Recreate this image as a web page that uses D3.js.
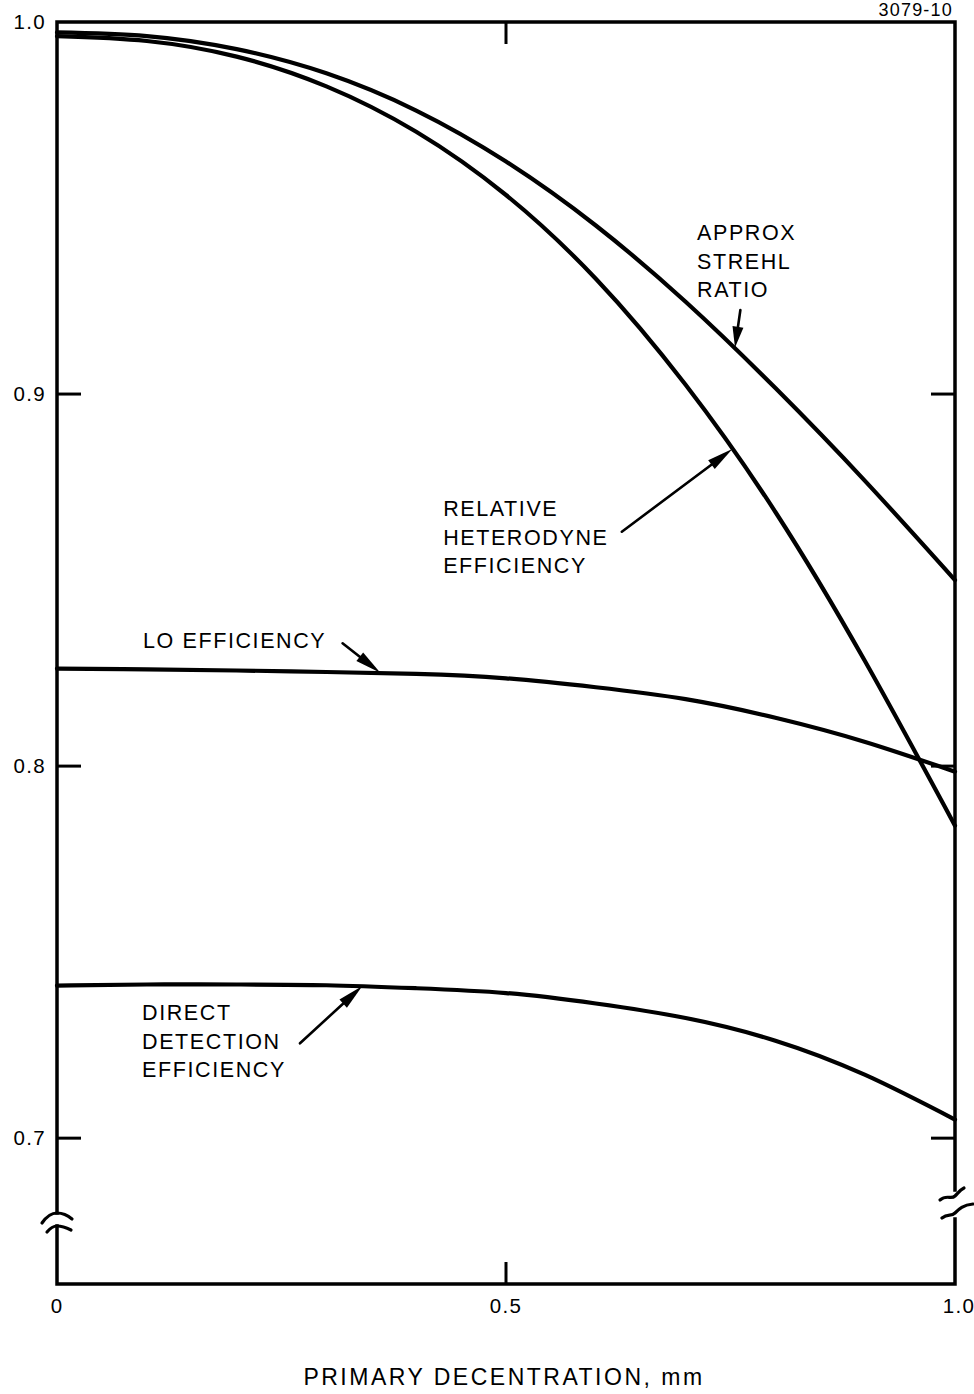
<!DOCTYPE html>
<html>
<head>
<meta charset="utf-8">
<script src="https://cdn.jsdelivr.net/npm/d3@7"></script>
<style>
  html, body { margin: 0; padding: 0; background: #fff; }
  svg { display: block; }
  text { font-family: "Liberation Sans", Arial, Helvetica, sans-serif; fill: #000; }
</style>
</head>
<body>
<script>
// Primary decentration (mm) at which every curve is sampled
const decentration = [0, 0.1, 0.2, 0.3, 0.4, 0.5, 0.6, 0.7, 0.8, 0.9, 1.0];

// Efficiency values at those decentrations
const strehlRatio = [0.9972, 0.9962, 0.9927, 0.9862, 0.9762, 0.9625, 0.9453, 0.9248, 0.9016, 0.8766, 0.8500];
const heterodyneEff = [0.9962, 0.9949, 0.9907, 0.9827, 0.9705, 0.9535, 0.9310, 0.9025, 0.8683, 0.8281, 0.7840];
const loEff = [0.8262, 0.8260, 0.8257, 0.8253, 0.8248, 0.8236, 0.8212, 0.8180, 0.8130, 0.8065, 0.7985];
const directEff = [0.7410, 0.7413, 0.7413, 0.7411, 0.7403, 0.7390, 0.7362, 0.7323, 0.7262, 0.7170, 0.7050];

// Axis ticks and labels
const yTicks = [0.7, 0.8, 0.9];
const yTickLabels = ["0.7", "0.8", "0.9", "1.0"];
const yLabelValues = [0.7, 0.8, 0.9, 1.0];
const xTickValues = [0, 0.5, 1.0];
const xTickLabels = ["0", "0.5", "1.0"];
const xTitle = "PRIMARY DECENTRATION, mm";
const figureId = "3079-10";

// Annotations: label lines, label anchor and arrow (tail -> tip) in data units
const notes = [
  { lines: ["APPROX", "STREHL", "RATIO"], at: [0.7127, 0.9414], tail: [0.761, 0.9226], tip: [0.755, 0.9125] },
  { lines: ["RELATIVE", "HETERODYNE", "EFFICIENCY"], at: [0.430, 0.8672], tail: [0.629, 0.8630], tip: [0.752, 0.8852] },
  { lines: ["LO EFFICIENCY"], at: [0.0958, 0.8317], tail: [0.318, 0.8330], tip: [0.360, 0.8251] },
  { lines: ["DIRECT", "DETECTION", "EFFICIENCY"], at: [0.0947, 0.7317], tail: [0.2706, 0.7255], tip: [0.340, 0.7409] }
];

const W = 974, H = 1394;
const plotL = 57, plotR = 955, plotT = 22, plotB = 1284;

const svg = d3.select("body").append("svg")
  .attr("width", W).attr("height", H)
  .attr("viewBox", `0 0 ${W} ${H}`);

svg.append("rect").attr("width", W).attr("height", H).attr("fill", "#fff");

const x = d3.scaleLinear().domain([0, 1]).range([plotL, plotR]);
const y = d3.scaleLinear().domain([0.6608, 1.0]).range([plotB, plotT]);

// Frame, with breaks in both vertical axes
const frame = svg.append("g").attr("fill", "none").attr("stroke", "#000")
  .attr("stroke-width", 3.5).attr("stroke-linecap", "square");

const leftBreakTop = 1213, leftBreakBot = 1226;
const rightBreakTop = 1190, rightBreakBot = 1219;

frame.append("path").attr("d", `M${plotL},${leftBreakTop} L${plotL},${plotT} L${plotR},${plotT} L${plotR},${rightBreakTop}`);
frame.append("path").attr("d", `M${plotL},${leftBreakBot} L${plotL},${plotB} L${plotR},${plotB} L${plotR},${rightBreakBot}`);

// break marks, left axis
const brk = svg.append("g").attr("fill", "none").attr("stroke", "#000")
  .attr("stroke-width", 3.2).attr("stroke-linecap", "round");
brk.append("path").attr("d", `M${plotL - 15},${leftBreakTop + 10} Q${plotL - 8},${leftBreakTop} ${plotL},${leftBreakTop} Q${plotL + 8},${leftBreakTop} ${plotL + 15},${leftBreakTop + 6}`);
brk.append("path").attr("d", `M${plotL - 10},${leftBreakBot + 6} Q${plotL - 5},${leftBreakBot} ${plotL},${leftBreakBot} Q${plotL + 6},${leftBreakBot} ${plotL + 14},${leftBreakBot + 4}`);
// break marks, right axis
brk.append("path").attr("d", `M${plotR - 15},${rightBreakTop + 10} C${plotR - 8},${rightBreakTop + 4} ${plotR - 4},${rightBreakTop + 10} ${plotR},${rightBreakTop + 6} S${plotR + 5},${rightBreakTop} ${plotR + 9},${rightBreakTop - 2}`);
brk.append("path").attr("d", `M${plotR - 13},${rightBreakBot - 1} C${plotR - 7},${rightBreakBot - 6} ${plotR - 4},${rightBreakBot - 2} ${plotR},${rightBreakBot - 6} S${plotR + 8},${rightBreakBot - 14} ${plotR + 18},${rightBreakBot - 15}`);

// Inward ticks
const ticks = svg.append("g").attr("stroke", "#000").attr("stroke-width", 3);
ticks.selectAll("line.yl").data(yTicks).join("line")
  .attr("x1", plotL).attr("x2", plotL + 24)
  .attr("y1", d => y(d)).attr("y2", d => y(d));
ticks.selectAll("line.yr").data(yTicks).join("line")
  .attr("x1", plotR - 24).attr("x2", plotR)
  .attr("y1", d => y(d)).attr("y2", d => y(d));
ticks.append("line").attr("x1", x(0.5)).attr("x2", x(0.5)).attr("y1", plotB).attr("y2", plotB - 22);
ticks.append("line").attr("x1", x(0.5)).attr("x2", x(0.5)).attr("y1", plotT).attr("y2", plotT + 22);

// Tick labels
svg.append("g").selectAll("text").data(yLabelValues).join("text")
  .attr("x", plotL - 11).attr("y", d => y(d) + 7)
  .attr("text-anchor", "end")
  .attr("font-size", 20.5).attr("letter-spacing", 1.3)
  .text((d, i) => yTickLabels[i]);

svg.append("g").selectAll("text").data(xTickValues).join("text")
  .attr("x", d => x(d) + (d === 1 ? 4 : 0)).attr("y", plotB + 29)
  .attr("text-anchor", "middle")
  .attr("font-size", 20.5).attr("letter-spacing", 1.3)
  .text((d, i) => xTickLabels[i]);

svg.append("text")
  .attr("x", x(0.5) - 2).attr("y", 1385)
  .attr("text-anchor", "middle")
  .attr("font-size", 23).attr("letter-spacing", 2.5)
  .text(xTitle);

svg.append("text")
  .attr("x", 953).attr("y", 16)
  .attr("text-anchor", "end")
  .attr("font-size", 18).attr("letter-spacing", 1.2)
  .text(figureId);

// Curves
const line = d3.line().x(d => x(d[0])).y(d => y(d[1])).curve(d3.curveNatural);
const series = [strehlRatio, heterodyneEff, loEff, directEff];
svg.append("g").attr("fill", "none").attr("stroke", "#000")
  .attr("stroke-width", 4.2).attr("stroke-linejoin", "round").attr("stroke-linecap", "round")
  .selectAll("path").data(series).join("path")
  .attr("d", vals => line(decentration.map((v, i) => [v, vals[i]])));

// Annotation labels and arrows
const lineGap = 28.6;
const ann = svg.append("g");
notes.forEach(n => {
  const tx = x(n.at[0]), ty = y(n.at[1]);
  n.lines.forEach((s, i) => {
    ann.append("text")
      .attr("x", tx).attr("y", ty + i * lineGap)
      .attr("font-size", 21.5).attr("letter-spacing", 1.6)
      .text(s);
  });
  const x0 = x(n.tail[0]), y0 = y(n.tail[1]);
  const x1 = x(n.tip[0]), y1 = y(n.tip[1]);
  const dx = x1 - x0, dy = y1 - y0, len = Math.hypot(dx, dy);
  const ux = dx / len, uy = dy / len;
  const headLen = Math.min(26, len * 0.55), headW = 5.5;
  const bx = x1 - ux * headLen, by = y1 - uy * headLen;
  ann.append("line")
    .attr("x1", x0).attr("y1", y0).attr("x2", bx + ux * 2).attr("y2", by + uy * 2)
    .attr("stroke", "#000").attr("stroke-width", 2.6).attr("stroke-linecap", "round");
  ann.append("path")
    .attr("d", `M${x1},${y1} L${bx - uy * headW},${by + ux * headW} L${bx + uy * headW},${by - ux * headW} Z`)
    .attr("fill", "#000");
});
</script>
</body>
</html>
